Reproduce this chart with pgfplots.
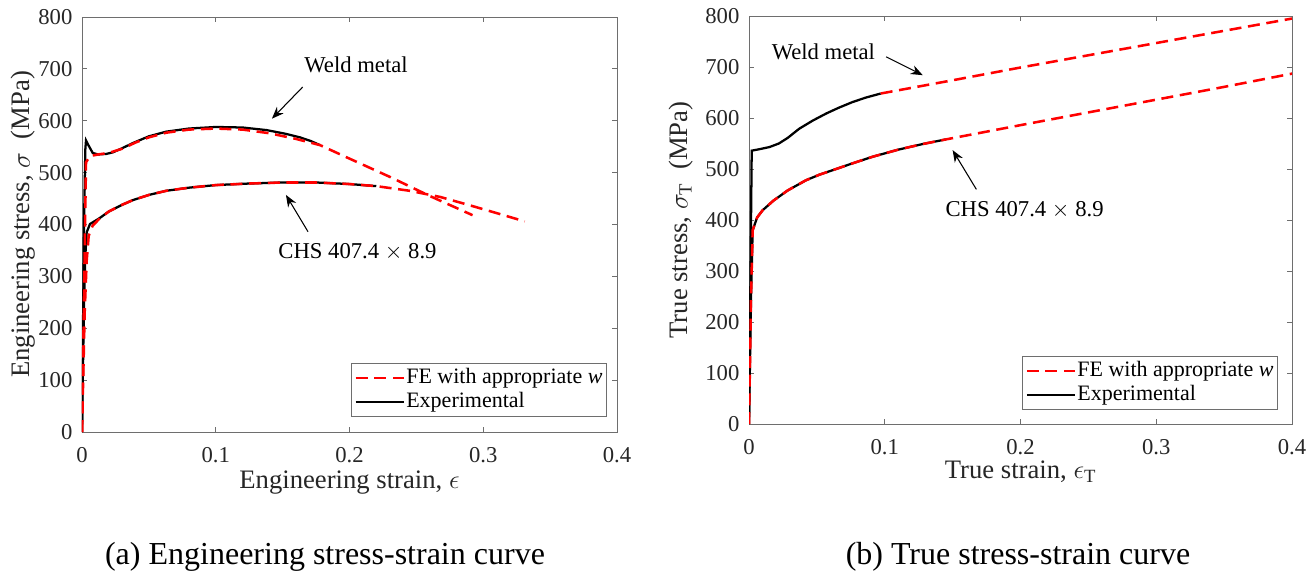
\RequirePackage{fix-cm}
\documentclass[border=0pt]{standalone}
\usepackage{fontspec}
\setmainfont{Liberation Serif}
\usepackage{pgfplots}
\pgfplotsset{compat=1.18}
\usetikzlibrary{arrows.meta}

\definecolor{axgray}{RGB}{110,110,110}
\definecolor{txtgray}{RGB}{38,38,38}

\tikzset{
  annot/.style={font=\fontsize{17}{20}\selectfont, text=black},
  arr/.style={-{Stealth[length=9pt, width=7pt]}, black, line width=0.8pt},
  exp/.style={black, line width=1.7pt},
  fe/.style={red, line width=1.9pt, dash pattern=on 9pt off 5pt},
}

\pgfplotsset{
  myaxis/.style={
    scale only axis,
    anchor=south west,
    xmin=0, xmax=0.4, ymin=0, ymax=800,
    xtick={0,0.1,0.2,0.3,0.4},
    ytick={0,100,...,800},
    /pgf/number format/assume math mode=true,
    /pgf/number format/fixed,
    tick align=inside,
    major tick length=4pt,
    xtick pos=both, ytick pos=both,
    axis line style={axgray, line width=0.6pt},
    every tick/.style={axgray, line width=0.6pt},
    every tick label/.append style={font=\fontsize{17}{20}\selectfont, text=txtgray},
    xticklabel style={anchor=base, yshift=-22.5pt, inner sep=0pt},
    yticklabel style={anchor=east, inner sep=0pt, xshift=-7pt},
    label style={font=\fontsize{20}{24}\selectfont, text=txtgray},
    legend cell align=left,
    legend style={font=\fontsize{16.5}{19}\selectfont, draw=axgray, line width=0.6pt,
      fill=white, anchor=south east, inner sep=2pt,
      nodes={inner sep=1pt, text height=12pt, text depth=4pt, text=black}},
    legend image code/.code={\draw[#1] (0pt,0pt) -- (36pt,0pt);},
  }
}

\begin{document}
\begin{tikzpicture}
\useasboundingbox (0,0) rectangle (982.5pt,432pt);

% ---------------- (a) Engineering ----------------
\begin{axis}[myaxis,
  at={(61.5pt,108pt)}, width=401.25pt, height=311.25pt,
  xlabel={Engineering strain, $\epsilon$},
  ylabel={Engineering stress, $\sigma$\ \ (MPa)},
  xlabel style={at={([yshift=-42pt]axis description cs:0.5,0)}, anchor=base},
  ylabel style={at={([xshift=-39pt]axis description cs:0,0.5)}, anchor=base},
  legend style={at={(0.981,0.036)}},
]
% experimental weld metal
\addplot[exp, forget plot] coordinates {
(0,0) (0.0015,400) (0.0025,545) (0.003,562) (0.005,552) (0.008,538) (0.012,535)
(0.018,536) (0.023,539) (0.03,547) (0.038,557) (0.05,570) (0.063,579) (0.08,585)
(0.1,588) (0.12,587) (0.138,582) (0.152,575) (0.163,568) (0.171,561) (0.178,553)};
% experimental CHS
\addplot[exp, forget plot] coordinates {
(0,0) (0.0015,250) (0.0025,340) (0.0035,385) (0.006,401) (0.013,412) (0.02,425)
(0.03,438) (0.038,447) (0.05,457) (0.063,465) (0.08,471) (0.1,476) (0.125,479)
(0.15,481) (0.175,481) (0.2,478) (0.22,474)};
% FE weld metal
\addplot[fe, forget plot] coordinates {
(0,0) (0.003,520) (0.006,532) (0.012,535) (0.02,538) (0.03,546) (0.04,558)
(0.05,568) (0.063,577) (0.08,583) (0.1,585) (0.12,583) (0.14,576) (0.16,565)
(0.178,553) (0.2,527) (0.23,492) (0.26,455) (0.292,418)};
% FE CHS
\addplot[fe, forget plot] coordinates {
(0,0) (0.002,230) (0.0035,330) (0.005,378) (0.008,398) (0.013,411) (0.02,425)
(0.03,438) (0.038,447) (0.05,457) (0.063,465) (0.08,471) (0.1,476) (0.125,479)
(0.15,481) (0.175,481) (0.2,478) (0.22,474) (0.245,465) (0.268,453) (0.29,437)
(0.31,422) (0.331,406)};

\addlegendimage{red, line width=1.9pt, dash pattern=on 9pt off 5pt}
\addlegendentry{FE with appropriate \textit{w}}
\addlegendimage{black, line width=1.7pt}
\addlegendentry{Experimental}

\node[annot] at (axis cs:0.2049,707) {Weld metal};
\draw[arr] (axis cs:0.165,665) -- (axis cs:0.142,604);
\node[annot] at (axis cs:0.206,347) {CHS 407.4 $\times$ 8.9};
\draw[arr] (axis cs:0.169,386) -- (axis cs:0.1525,457);
\end{axis}

% ---------------- (b) True ----------------
\begin{axis}[myaxis,
  at={(561.75pt,114pt)}, width=407.25pt, height=306pt,
  xlabel={True strain, $\epsilon_{\mathrm{T}}$},
  ylabel={True stress, $\sigma_{\mathrm{T}}$\ \ (MPa)},
  xlabel style={at={([yshift=-41pt]axis description cs:0.5,0)}, anchor=base},
  ylabel style={at={([xshift=-46pt]axis description cs:0,0.5)}, anchor=base},
  legend style={at={(0.974,0.034)}},
]
% experimental weld metal
\addplot[exp, forget plot] coordinates {
(0,0) (0.0015,400) (0.002,536) (0.008,539) (0.015,543) (0.022,550) (0.0285,561)
(0.037,579) (0.047,595) (0.057,609) (0.066,620) (0.076,631) (0.086,640) (0.097,648)};
% experimental CHS
\addplot[exp, forget plot] coordinates {
(0,0) (0.0015,250) (0.0027,380) (0.006,405) (0.01,419) (0.018,438) (0.0285,458)
(0.042,478) (0.052,489) (0.062,498) (0.075,510) (0.091,524) (0.11,538)
(0.128,549) (0.145,558)};
% FE weld metal
\addplot[fe, forget plot] coordinates {
(0.097,648) (0.15,674) (0.2,699) (0.25,723) (0.3,747) (0.35,771) (0.4,795)};
% FE CHS
\addplot[fe, forget plot] coordinates {
(0,0) (0.0015,250) (0.0027,380) (0.006,405) (0.01,419) (0.018,438) (0.0285,458)
(0.042,478) (0.052,489) (0.062,498) (0.075,510) (0.091,524) (0.11,538)
(0.128,549) (0.145,558) (0.2,586) (0.25,611) (0.3,636) (0.35,661) (0.4,687)};

\addlegendimage{red, line width=1.9pt, dash pattern=on 9pt off 5pt}
\addlegendentry{FE with appropriate \textit{w}}
\addlegendimage{black, line width=1.7pt}
\addlegendentry{Experimental}

\node[annot] at (axis cs:0.0548,729) {Weld metal};
\draw[arr] (axis cs:0.101,720) -- (axis cs:0.128,684);
\node[annot] at (axis cs:0.203,419) {CHS 407.4 $\times$ 8.9};
\draw[arr] (axis cs:0.1675,460) -- (axis cs:0.15,537);
\end{axis}

\node[font=\fontsize{24}{28}\selectfont, anchor=center] at (243.75pt,14.25pt) {(a) Engineering stress-strain curve};
\node[font=\fontsize{24}{28}\selectfont, anchor=center] at (763.5pt,14.25pt) {(b) True stress-strain curve};
\end{tikzpicture}
\end{document}
